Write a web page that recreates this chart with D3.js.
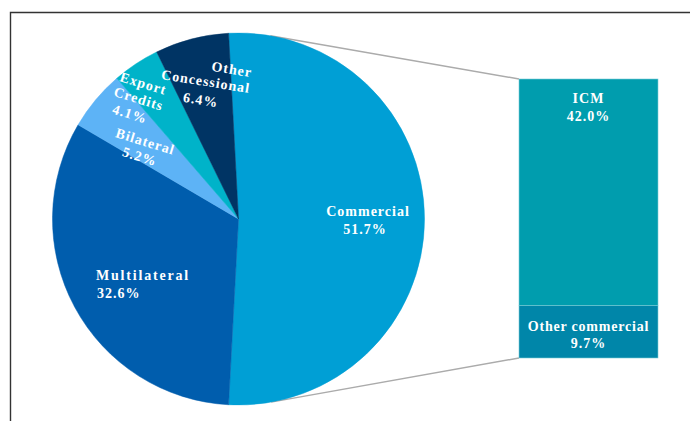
<!DOCTYPE html>
<html>
<head>
<meta charset="utf-8">
<script src="https://cdn.jsdelivr.net/npm/d3@7"></script>
<style>
  html, body { margin: 0; padding: 0; background: #fff; }
  svg { display: block; }
  text { font-family: "Liberation Serif", "Times New Roman", serif; font-weight: bold; fill: #fff; }
</style>
</head>
<body>
<svg id="chart" width="690" height="421"></svg>
<script>
// ---- data ----
const pieCategories = ["Commercial", "Multilateral", "Bilateral", "Export Credits", "Other Concessional"];
const pieValues = [51.7, 32.6, 5.2, 4.1, 6.4];
const barCategories = ["Other commercial", "ICM"];
const barValues = [9.7, 42.0];

// ---- styles / layout ----
const pieColors = ["#009FD5", "#005DAD", "#5DB3F6", "#00B3C9", "#003464"];
const barColors = ["#0086A9", "#009DAE"];
const W = 690, H = 421;
const cx = 238.5, cy = 219, R = 186;
const barX = 519, barW = 139, barTop = 79, barBottom = 358;

// label layout (per category): anchor point, rotation, line offsets, letter spacing
const pieLabelLayout = {
  "Commercial":         { x: 368, y: 216, rot: 0,  anchor: "middle", ls: 1,   lines: [[0, 0], [-3, 18]] },
  "Multilateral":       { x: 96,  y: 280, rot: 0,  anchor: "start",  ls: 1.8, lines: [[0, 0], [1, 18]] },
  "Bilateral":          { x: 144, y: 146, rot: 17, anchor: "middle", ls: 1,   lines: [[0, 0], [-1, 16]] },
  "Export Credits":     { x: 142, y: 88,  rot: 17, anchor: "middle", ls: 1,   lines: [[0, 0], [0, 16], [-4, 33]] },
  "Other Concessional": { x: 205, y: 86,  rot: 9,  anchor: "middle", ls: 1,   lines: [[24, -16], [0, 0], [-2, 19]] }
};
const pieLabelLines = {
  "Commercial": ["Commercial"],
  "Multilateral": ["Multilateral"],
  "Bilateral": ["Bilateral"],
  "Export Credits": ["Export", "Credits"],
  "Other Concessional": ["Other", "Concessional"]
};

const svg = d3.select("#chart");

// frame
svg.append("path")
  .attr("d", `M10.5,${H} V12.5 H${W}`)
  .attr("fill", "none").attr("stroke", "#333").attr("stroke-width", 1.4);

// connector lines (tangent from bar corners to pie)
function tangentPoint(px, py, upper) {
  const dx = px - cx, dy = py - cy;
  const d = Math.hypot(dx, dy);
  const phi = Math.atan2(dy, dx);
  const a = Math.acos(R / d);
  const t = upper ? phi - a : phi + a;
  return [cx + R * Math.cos(t), cy + R * Math.sin(t)];
}
const yBar = d3.scaleLinear().domain([0, d3.sum(barValues)]).range([barBottom, barTop]);
const tTop = tangentPoint(barX, yBar(d3.sum(barValues)), true);
const tBot = tangentPoint(barX, yBar(0), false);
svg.append("line").attr("x1", tTop[0]).attr("y1", tTop[1]).attr("x2", barX).attr("y2", yBar(d3.sum(barValues)))
  .attr("stroke", "#ABABAB").attr("stroke-width", 1.5);
svg.append("line").attr("x1", tBot[0]).attr("y1", tBot[1]).attr("x2", barX).attr("y2", yBar(0))
  .attr("stroke", "#ABABAB").attr("stroke-width", 1.5);

// pie
const first = pieValues[0] / d3.sum(pieValues);
const start = Math.PI / 2 - first * Math.PI;
const pie = d3.pie().sort(null).value(d => d).startAngle(start).endAngle(start + 2 * Math.PI);
const arc = d3.arc().innerRadius(0).outerRadius(R);
const arcs = pie(pieValues);
const g = svg.append("g").attr("transform", `translate(${cx},${cy})`);
g.selectAll("path").data(arcs).join("path")
  .attr("d", arc)
  .attr("fill", (d, i) => pieColors[i])
  .attr("stroke", (d, i) => pieColors[i]).attr("stroke-width", 0.5);

// pie labels
pieCategories.forEach((cat, i) => {
  const L = pieLabelLayout[cat];
  const lines = pieLabelLines[cat].concat([d3.format(".1f")(pieValues[i]) + "%"]);
  const lg = svg.append("g").attr("transform", `translate(${L.x},${L.y}) rotate(${L.rot})`);
  lines.forEach((txt, j) => {
    lg.append("text")
      .attr("x", L.lines[j][0]).attr("y", L.lines[j][1])
      .attr("text-anchor", L.anchor)
      .attr("font-size", 14)
      .attr("letter-spacing", j === lines.length - 1 ? 1 : L.ls)
      .text(txt);
  });
});

// stacked bar
let acc = 0;
const stacks = barValues.map((v, i) => { const s = { cat: barCategories[i], v, y0: acc, y1: acc + v, i }; acc += v; return s; });
svg.selectAll("rect.bar").data(stacks).join("rect")
  .attr("class", "bar")
  .attr("x", barX).attr("width", barW)
  .attr("y", d => yBar(d.y1)).attr("height", d => yBar(d.y0) - yBar(d.y1))
  .attr("fill", d => barColors[d.i])
  .attr("stroke", "#7ccbd6").attr("stroke-width", 0.6);

// bar labels
const barLabelOffset = [[331, 348], [103, 121]];
stacks.forEach(s => {
  const ys = barLabelOffset[s.i];
  [s.cat, d3.format(".1f")(s.v) + "%"].forEach((txt, j) => {
    svg.append("text")
      .attr("x", barX + barW / 2).attr("y", ys[j])
      .attr("text-anchor", "middle")
      .attr("font-size", 14)
      .attr("letter-spacing", s.i === 0 && j === 0 ? 0.8 : 1)
      .text(txt);
  });
});
</script>
</body>
</html>
